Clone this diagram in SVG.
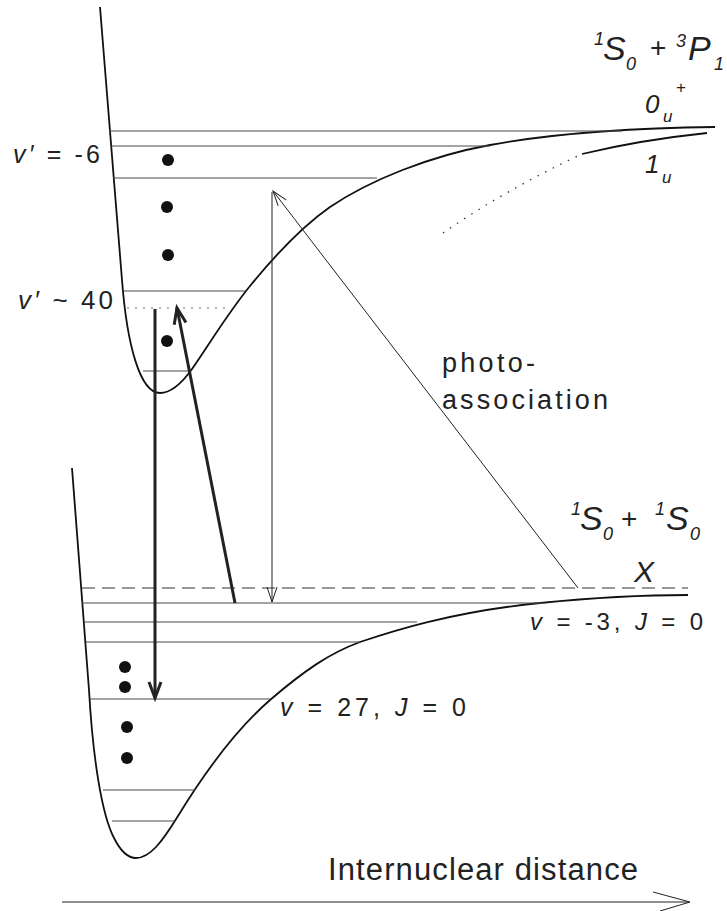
<svg xmlns="http://www.w3.org/2000/svg" width="727" height="911" viewBox="0 0 727 911">
<style>
.curve{fill:none;stroke:#111;stroke-width:1.8}
.lvl{fill:none;stroke:#4a4a4a;stroke-width:1.2}
.thin{fill:none;stroke:#222;stroke-width:1}
.thick{fill:none;stroke:#222;stroke-width:3}
.dot{fill:#111}
text{font-family:"Liberation Sans",Arial,sans-serif;fill:#222}
.it{font-style:italic}
</style>
<defs>
<marker id="ahThin" markerUnits="userSpaceOnUse" markerWidth="18" markerHeight="12" refX="15" refY="5" orient="auto" overflow="visible">
<path d="M0,0 L15,5 L0,10" fill="none" stroke="#222" stroke-width="1"/>
</marker>
<marker id="ahThick" markerUnits="userSpaceOnUse" markerWidth="20" markerHeight="14" refX="16" refY="6" orient="auto" overflow="visible">
<path d="M0,0 L16,6 L0,12" fill="none" stroke="#222" stroke-width="3"/>
</marker>
</defs>

<g id="upper-potential">
<path class="curve" d="M100,7 L122,280 C127,345 140,393 160,393 C172,393 182,383 192,369 C210,343 228,313 250,286 C272,259 300,228 330,207 C370,180 430,156 490,145 C550,134 630,128 715,127"/>
<path class="curve" d="M582,154 Q640,140 707,133"/>
<path d="M443,233 Q505,190 582,154" fill="none" stroke="#333" stroke-width="1.3" stroke-dasharray="1.5 7"/>
</g>

<g id="upper-levels">
<line class="lvl" x1="109" y1="131" x2="622" y2="131"/>
<line class="lvl" x1="110" y1="146" x2="490" y2="146"/>
<line class="lvl" x1="113" y1="178" x2="377" y2="178"/>
<line class="lvl" x1="124" y1="291" x2="245" y2="291"/>
<line x1="127" y1="308" x2="230" y2="308" stroke="#777" stroke-width="1.2" stroke-dasharray="2 6"/>
<line class="lvl" x1="143" y1="371" x2="190" y2="371"/>
<circle class="dot" cx="168" cy="160" r="6"/>
<circle class="dot" cx="167" cy="207" r="6"/>
<circle class="dot" cx="168" cy="255" r="6"/>
<circle class="dot" cx="167" cy="341" r="6"/>
</g>

<g id="lower-potential">
<path class="curve" d="M72,468 L89,690 C93,760 102,815 114,838 C120,850 127,858 136,858 C150,858 162,842 178,816 C200,780 230,735 270,700 C305,670 330,653 360,642 C390,632 450,612 540,603 C600,597 650,595 688,595"/>
</g>

<g id="lower-levels">
<line x1="82" y1="588" x2="688" y2="588" stroke="#777" stroke-width="1.5" stroke-dasharray="13 7"/>
<line class="lvl" x1="82" y1="603" x2="545" y2="603"/>
<line class="lvl" x1="84" y1="622" x2="417" y2="622"/>
<line class="lvl" x1="86" y1="642" x2="360" y2="642"/>
<line class="lvl" x1="90" y1="699" x2="270" y2="699"/>
<line class="lvl" x1="103" y1="790" x2="195" y2="790"/>
<line class="lvl" x1="112" y1="821" x2="175" y2="821"/>
<circle class="dot" cx="125" cy="667" r="6"/>
<circle class="dot" cx="125" cy="687" r="6"/>
<circle class="dot" cx="127" cy="727" r="6"/>
<circle class="dot" cx="127" cy="758" r="6"/>
</g>

<g id="connectors">
<line class="thick" x1="155" y1="309" x2="155" y2="698" marker-end="url(#ahThick)"/>
<line class="thick" x1="235" y1="603" x2="177" y2="308" marker-end="url(#ahThick)"/>
<line class="thin" x1="272" y1="192" x2="272" y2="602" marker-end="url(#ahThin)"/>
<line class="thin" x1="578" y1="588" x2="273" y2="191" marker-end="url(#ahThin)"/>
<line class="thin" x1="62" y1="902" x2="689" y2="902"/>
<path class="thin" d="M653,892 L690,902 L660,911"/>
</g>

<g id="labels">
<text x="13" y="163" font-size="25" textLength="87"><tspan class="it">v′</tspan> = -6</text>
<text x="18" y="309" font-size="26" textLength="95"><tspan class="it">v′</tspan> ~ 40</text>
<text x="442" y="372" font-size="27" textLength="93">photo-</text>
<text x="442" y="409" font-size="27" textLength="166">association</text>
<text x="530" y="630" font-size="24" textLength="173"><tspan class="it">v</tspan> = -3, <tspan class="it">J</tspan> = 0</text>
<text x="280" y="716" font-size="25" textLength="186"><tspan class="it">v</tspan> = 27, <tspan class="it">J</tspan> = 0</text>
<text class="it" x="634" y="582" font-size="30">X</text>
<text x="328" y="880" font-size="31" textLength="310">Internuclear distance</text>

<text class="it" x="594" y="45" font-size="18">1</text>
<text class="it" x="603" y="60" font-size="34">S</text>
<text class="it" x="626" y="70" font-size="18">0</text>
<text x="650" y="57" font-size="28">+</text>
<text class="it" x="676" y="47" font-size="18">3</text>
<text class="it" x="688" y="60" font-size="34">P</text>
<text class="it" x="714" y="70" font-size="18">1</text>

<text class="it" x="645" y="113" font-size="26">0</text>
<text class="it" x="663" y="122" font-size="17">u</text>
<text x="676" y="93" font-size="17">+</text>
<text class="it" x="645" y="173" font-size="26">1</text>
<text class="it" x="662" y="183" font-size="17">u</text>

<text class="it" x="571" y="515" font-size="18">1</text>
<text class="it" x="580" y="530" font-size="34">S</text>
<text class="it" x="603" y="540" font-size="18">0</text>
<text x="621" y="528" font-size="28">+</text>
<text class="it" x="655" y="515" font-size="18">1</text>
<text class="it" x="666" y="530" font-size="34">S</text>
<text class="it" x="690" y="540" font-size="18">0</text>
</g>
</svg>
